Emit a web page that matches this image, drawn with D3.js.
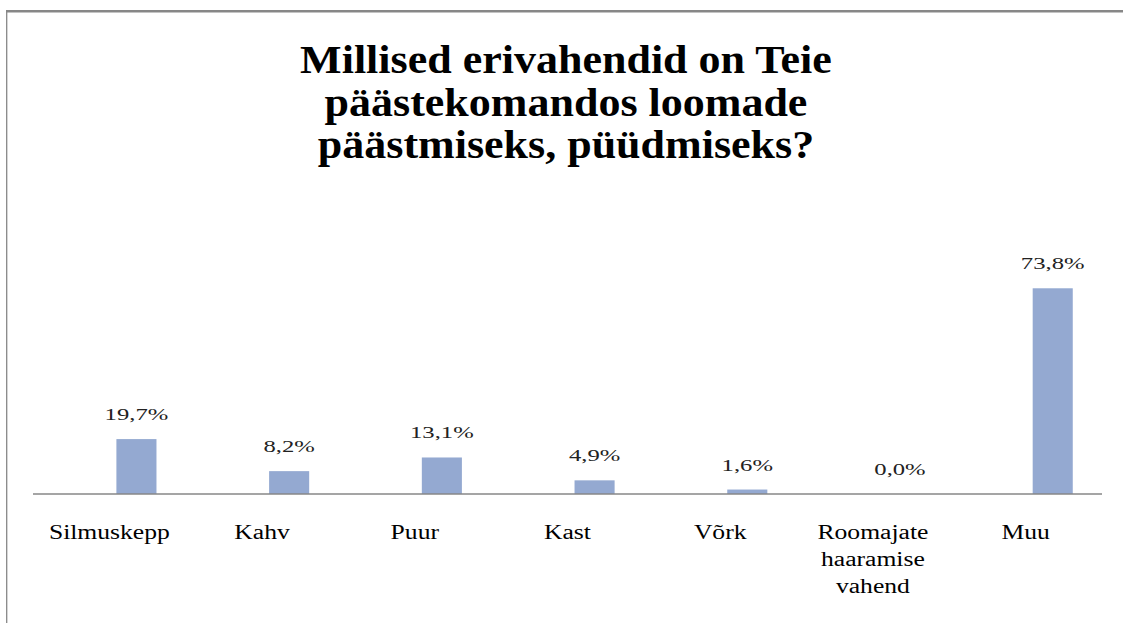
<!DOCTYPE html>
<html><head><meta charset="utf-8"><script src="https://cdn.jsdelivr.net/npm/d3@7"></script></head>
<body style="margin:0">
<svg id="s" width="1123" height="623"></svg>
<script>
/*
*       Data
*/

// Title, one line per entry
var titleLines = ['Millised erivahendid on Teie', 'päästekomandos loomade', 'päästmiseks, püüdmiseks?'];

// Categories along the x axis (words get their own line)
var categories = ['Silmuskepp', 'Kahv', 'Puur', 'Kast', 'Võrk', 'Roomajate haaramise vahend', 'Muu'];

// Percent of answers for each category
var values = [19.7, 8.2, 13.1, 4.9, 1.6, 0.0, 73.8];

// Excel made this a clustered chart with an empty first series, that is why the bars sit right of centre
var seriesNames = ['', 'Vastajad'];

/*
*       Setup
*/

var svg = d3.select('#s');
var serifStack = '"Liberation Serif", Tinos, "Times New Roman", serif';
var barColor = '#94a9d1';
var lineColor = '#878787';

// Chart frame (only top and left edges are inside the picture)
svg.append('line')
    .attr('x1', 6).attr('x2', 1123)
    .attr('y1', 11.3).attr('y2', 11.3)
    .attr('stroke', lineColor).attr('stroke-width', 2.6);
svg.append('line')
    .attr('x1', 6.7).attr('x2', 6.7)
    .attr('y1', 10).attr('y2', 623)
    .attr('stroke', lineColor).attr('stroke-width', 1.3);

// Scales
var x = d3.scaleBand()
    .domain(categories)
    .range([33, 1102]);

var x1 = d3.scaleBand()
    .domain(seriesNames)
    .range([0, x.bandwidth()])
    .paddingInner(0.26)
    .paddingOuter(0.54);

var y = d3.scaleLinear()
    .domain([0, 80])
    .range([494, 271]);

// Widen a text by a factor (the original picture was stretched sideways), keeping it centred on cx
function addText(str, cx, baseline, size, weight, fill, factor) {
    var t = svg.append('text')
        .style('font-family', serifStack)
        .attr('font-size', size)
        .attr('font-weight', weight)
        .attr('fill', fill)
        .attr('y', baseline)
        .text(str);
    var len = t.node().getComputedTextLength() * factor;
    t.attr('x', cx - len / 2)
        .attr('textLength', len)
        .attr('lengthAdjust', 'spacingAndGlyphs');
    return t;
}

// Title
titleLines.forEach(function(line, i) {
    addText(line, 566, 73 + i * 42.5, 40, 'bold', '#000', 1.1);
});

// Bars
svg.selectAll('rect.bar')
    .data(values)
    .enter().append('rect')
      .attr('class', 'bar')
      .attr('x', function(d, i) { return x(categories[i]) + x1('Vastajad'); })
      .attr('y', function(d) { return y(d); })
      .attr('width', x1.bandwidth())
      .attr('height', function(d) { return y(0) - y(d); })
      .attr('fill', barColor);

// Value labels
values.forEach(function(v, i) {
    var label = v.toFixed(1).replace('.', ',') + '%';
    addText(label, x(categories[i]) + x1('Vastajad') + x1.bandwidth() / 2, y(v) - 19, 17, 'normal', '#222', 1.45);
});

// Baseline along the category axis
svg.append('line')
    .attr('x1', x.range()[0]).attr('x2', x.range()[1])
    .attr('y1', y(0)).attr('y2', y(0))
    .attr('stroke', lineColor).attr('stroke-width', 1.3);

// Category labels, one word per line
categories.forEach(function(c) {
    c.split(' ').forEach(function(word, i) {
        addText(word, x(c) + x.bandwidth() / 2, 539 + i * 27, 20, 'normal', '#000', 1.28);
    });
});
</script>
</body>
</html>
